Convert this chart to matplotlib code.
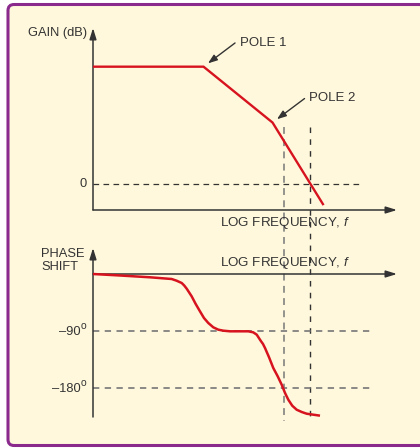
import matplotlib
matplotlib.use("Agg")
import matplotlib.pyplot as plt
from matplotlib.patches import FancyBboxPatch

plt.rcParams['font.family'] = ['Liberation Sans', 'DejaVu Sans']
plt.rcParams['mathtext.fontset'] = 'custom'
plt.rcParams['mathtext.rm'] = 'Liberation Sans'
plt.rcParams['mathtext.it'] = 'Liberation Sans:italic'

# Bode plot of a two-pole amplifier (asymptotic gain, smooth phase)
gain_freq = [1, 40, 400, 2150]
gain_db = [42, 42, 22, -7.2]
pole_freq = [40, 400]
pole_gain = [42, 22]
marker_freq = [590, 1400]

phase_freq = [1, 2.5, 6.7, 13.8, 16.3, 19.3, 21.0, 22.8, 26.9, 30.8, 35.5, 40.6,
              46.9, 55.4, 65.5, 77.3, 96.8, 178, 210, 236, 269, 291, 311, 356,
              410, 475, 543, 607, 677, 773, 895, 1059, 1250, 1950]
phase_deg = [0, -2.4, -5.2, -7.9, -10.6, -14.2, -18.2, -23.2, -35.2, -47.4, -58.9,
             -69.5, -77.4, -84.2, -87.9, -89.5, -90.5, -90.5, -92.1, -95.8,
             -105.3, -110.5, -116.8, -131.5, -148.4, -161.5, -174.8, -187.9,
             -198.5, -208, -214.3, -217.9, -220.6, -223.7]
phase_ticks = [-90, -180]
phase_labels = ['\u201390', '\u2013180']

RED = '#d6131e'
INK = '#333333'
BG = '#fff8dc'
W, H = 420, 448


def fpx(x, y):
    return x / W, 1 - y / H


fig = plt.figure(figsize=(4.2, 4.48), dpi=100)
fig.patch.set_facecolor('white')

frame = FancyBboxPatch((0.08, 0.025), 4.17, 4.41,
                       boxstyle='round,pad=0,rounding_size=0.06',
                       transform=fig.dpi_scale_trans, facecolor=BG,
                       edgecolor='#8b2a8d', linewidth=2.2, zorder=-5)
fig.patches.append(frame)

ax1 = fig.add_axes([93 / W, 1 - 210 / H, 304 / W, 182 / H])
ax2 = fig.add_axes([93 / W, 1 - 417 / H, 304 / W, 169 / H])
xmax = 10 ** 4.406
for ax in (ax1, ax2):
    ax.set_facecolor('none')
    ax.set_xscale('log')
    ax.set_xlim(1, xmax)
    for s in ax.spines.values():
        s.set_visible(False)
    ax.set_xticks([])
    ax.set_yticks([])
    ax.minorticks_off()

ax1.set_ylim(-9.31, 55.85)
ax2.set_ylim(-225.8, 41.05)

arrow = dict(arrowstyle='-|>,head_length=0.55,head_width=0.17', color=INK,
             lw=1.1, shrinkA=0, shrinkB=0, mutation_scale=12)

# gain axes
ax1.annotate('', xy=(0, 1), xytext=(0, 0), xycoords='axes fraction', arrowprops=arrow)
ax1.annotate('', xy=(1, 0), xytext=(0, 0), xycoords='axes fraction', arrowprops=arrow)
ax1.plot([1, 7400], [0, 0], color=INK, lw=0.9, dashes=(4.5, 3.5))
ax1.plot(gain_freq, gain_db, color=RED, lw=1.7, solid_joinstyle='miter', zorder=4)

# frequency markers running down through both panels
ax1.plot([marker_freq[0]] * 2, [20.5, -84.9], color='#777777', lw=1.1,
         dashes=(4.5, 3.5), clip_on=False)
ax1.plot([marker_freq[1]] * 2, [20.5, -84.9], color=INK, lw=1.0,
         dashes=(4, 4.5), clip_on=False)

# pole callouts
parrow = dict(arrowstyle='-|>,head_length=0.55,head_width=0.2', color=INK,
              lw=1.0, shrinkA=0, shrinkB=4, mutation_scale=10)
ax1.annotate('', xy=(pole_freq[0], pole_gain[0]), xytext=(31.5, 23.7),
             textcoords='offset pixels', arrowprops=parrow)
ax1.annotate('POLE 1', xy=(pole_freq[0], pole_gain[0]), xytext=(36.5, 23.7),
             textcoords='offset pixels', ha='left', va='center',
             fontsize=9.5, color=INK)
ax1.annotate('', xy=(pole_freq[1], pole_gain[1]), xytext=(32, 24),
             textcoords='offset pixels', arrowprops=parrow)
ax1.annotate('POLE 2', xy=(pole_freq[1], pole_gain[1]), xytext=(36, 24.5),
             textcoords='offset pixels', ha='left', va='center',
             fontsize=9.5, color=INK)

# phase axes
ax2.annotate('', xy=(0, 1), xytext=(0, 0), xycoords='axes fraction', arrowprops=arrow)
ax2.annotate('', xy=(1, 0), xytext=(0, 0), xycoords=('axes fraction', 'data'),
             arrowprops=arrow)
for d in phase_ticks:
    ax2.plot([1, 11000], [d, d], color='#808080', lw=1.3, dashes=(3.5, 3))
ax2.plot(phase_freq, phase_deg, color=RED, lw=1.8, solid_joinstyle='round',
         solid_capstyle='butt', zorder=4)

# labels
kw = dict(fontsize=9.3, color=INK)
fig.text(*fpx(87, 33), 'GAIN (dB)', ha='right', va='center', **kw)
fig.text(*fpx(87, 184), '0', ha='right', va='center', **kw)
fig.text(*fpx(220, 223), 'LOG FREQUENCY, $\\mathit{f}$', ha='left', va='center',
         fontsize=9.6, color=INK)
fig.text(*fpx(220, 263), 'LOG FREQUENCY, $\\mathit{f}$', ha='left', va='center',
         fontsize=9.6, color=INK)
fig.text(*fpx(41, 254), 'PHASE', ha='left', va='center', **kw)
fig.text(*fpx(41, 267), 'SHIFT', ha='left', va='center', **kw)
for d, lab in zip(phase_ticks, phase_labels):
    py = 274 - d / 90 * 57
    fig.text(*fpx(80.5, py + 1), lab, ha='right', va='center', **kw)
    fig.text(*fpx(81, py - 5), 'o', ha='left', va='center', fontsize=7.5, color=INK)

fig.savefig('out.png', dpi=100, facecolor=fig.get_facecolor())
